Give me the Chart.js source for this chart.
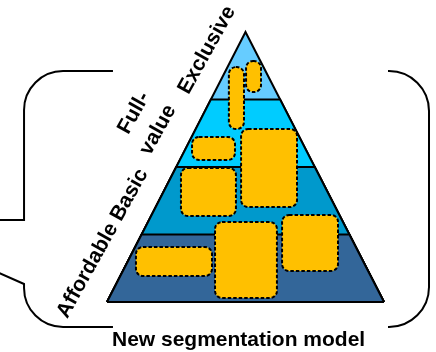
<!DOCTYPE html>
<html>
<head>
<meta charset="utf-8">
<script src="https://cdn.jsdelivr.net/npm/chart.js@4/dist/chart.umd.min.js"></script>
<style>
  html, body { margin: 0; padding: 0; background: #ffffff; }
  #wrap { width: 436px; height: 352px; }
</style>
</head>
<body>
<div id="wrap"><canvas id="c" width="436" height="352"></canvas></div>
<script>
// Pyramid tiers, bottom to top
const tiers = ['Affordable', 'Basic', 'Full-value', 'Exclusive'];
// Level (height) at which each tier ends, and the pyramid half-width at each level
const tierTop = [1, 2, 3, 4];
const halfWidthAtLevel = [1, 0.75, 0.5, 0.25, 0];

// Customer segments placed on the pyramid (x across, level up)
const segLeft   = [-0.12, 0.004, -0.386, -0.032, -0.466, -0.791, -0.220, 0.264];
const segRight  = [-0.011, 0.112, -0.076, 0.372, -0.069, -0.242, 0.227, 0.668];
const segBottom = [2.563, 3.11, 2.104, 1.407, 1.274, 0.385, 0.059, 0.459];
const segTop    = [3.48, 3.57, 2.444, 2.563, 1.985, 0.815, 1.185, 1.289];

const chartTitle = 'New segmentation model';

// ---- styling ----
const tierColors = ['#336699', '#0099CC', '#00CCFF', '#66CCFF'];
const segFill = '#FFC000';
const FONT = 'bold 21px "Liberation Sans", Arial, sans-serif';

// Outline polygon of the pyramid from the base up to a given tier top
function tierShape(i) {
  const top = tierTop[i];
  const w = halfWidthAtLevel[top];
  return [
    { x: -halfWidthAtLevel[0], y: 0 },
    { x: -w, y: top },
    { x: w, y: top },
    { x: halfWidthAtLevel[0], y: 0 }
  ];
}

const datasets = [];
// base line of the pyramid (drawn on top)
datasets.push({
  label: 'base',
  data: [{ x: -halfWidthAtLevel[0], y: 0 }, { x: halfWidthAtLevel[0], y: 0 }],
  showLine: true, fill: false, borderColor: '#000', borderWidth: 2, pointRadius: 0
});
tiers.forEach((name, i) => {
  datasets.push({
    label: name,
    data: tierShape(i),
    showLine: true,
    fill: 'origin',
    backgroundColor: tierColors[i],
    borderColor: '#000',
    borderWidth: 2,
    borderJoinStyle: 'miter',
    pointRadius: 0,
    tension: 0
  });
});

// Rounded, dashed segment boxes
const segmentBoxes = {
  id: 'segmentBoxes',
  afterDatasetsDraw(chart) {
    const { ctx, scales: { x, y } } = chart;
    ctx.save();
    for (let i = 0; i < segLeft.length; i++) {
      const x0 = x.getPixelForValue(segLeft[i]);
      const x1 = x.getPixelForValue(segRight[i]);
      const y0 = y.getPixelForValue(segTop[i]);
      const y1 = y.getPixelForValue(segBottom[i]);
      ctx.beginPath();
      ctx.roundRect(x0, y0, x1 - x0, y1 - y0, 7);
      ctx.fillStyle = segFill;
      ctx.fill();
      ctx.setLineDash([3.5, 2]);
      ctx.lineWidth = 2;
      ctx.strokeStyle = '#000';
      ctx.stroke();
    }
    ctx.restore();
  }
};

// Tier captions along the left side, the title, and the frame brackets
const captionPlacement = [
  { text: 'Affordable Basic', x: -1.032, y: 0.867 },
  { text: 'Full-', x: -0.805, y: 2.80 },
  { text: 'value', x: -0.632, y: 2.548 },
  { text: 'Exclusive', x: -0.278, y: 3.733 }
];
const titlePlacement = { x: -0.05, y: -0.652 };
const brackets = [
  // [points], radius per corner (px)
  { pts: [[-0.957, 3.422], [-1.599, 3.422], [-1.599, 1.215], [-1.80, 1.215]], r: [0, 39, 0, 0] },
  { pts: [[-1.80, 0.45], [-1.599, 0.267], [-1.599, -0.370], [-0.957, -0.370]], r: [0, 0, 39, 0] },
  { pts: [[1.029, 3.422], [1.325, 3.422], [1.325, -0.370], [1.029, -0.370]], r: [0, 40, 40, 0] }
];

const decorations = {
  id: 'decorations',
  afterDraw(chart) {
    const { ctx, scales: { x, y } } = chart;
    ctx.save();
    // brackets
    ctx.strokeStyle = '#000';
    ctx.lineWidth = 2;
    ctx.lineJoin = 'miter';
    brackets.forEach(b => {
      const p = b.pts.map(q => [x.getPixelForValue(q[0]), y.getPixelForValue(q[1])]);
      ctx.beginPath();
      ctx.moveTo(p[0][0], p[0][1]);
      for (let i = 1; i < p.length; i++) {
        if (b.r[i] > 0 && i < p.length - 1) {
          ctx.arcTo(p[i][0], p[i][1], p[i + 1][0], p[i + 1][1], b.r[i]);
        } else {
          ctx.lineTo(p[i][0], p[i][1]);
        }
      }
      ctx.stroke();
    });
    // captions
    ctx.fillStyle = '#000';
    ctx.font = FONT;
    ctx.textAlign = 'center';
    ctx.textBaseline = 'middle';
    captionPlacement.forEach(c => {
      ctx.save();
      ctx.translate(x.getPixelForValue(c.x), y.getPixelForValue(c.y));
      ctx.rotate(-61 * Math.PI / 180);
      ctx.fillText(c.text, 0, 0);
      ctx.restore();
    });
    // title
    ctx.textBaseline = 'alphabetic';
    ctx.fillText(chartTitle, x.getPixelForValue(titlePlacement.x), y.getPixelForValue(titlePlacement.y));
    ctx.restore();
  }
};

new Chart(document.getElementById('c'), {
  type: 'scatter',
  data: { datasets },
  options: {
    responsive: false,
    animation: false,
    devicePixelRatio: 1,
    layout: { padding: 0 },
    plugins: { legend: { display: false }, tooltip: { enabled: false }, title: { display: false } },
    scales: {
      x: { type: 'linear', min: -1.7726, max: 1.3755, display: false },
      y: { type: 'linear', min: -0.741, max: 4.474, display: false }
    }
  },
  plugins: [segmentBoxes, decorations]
});
</script>
</body>
</html>
